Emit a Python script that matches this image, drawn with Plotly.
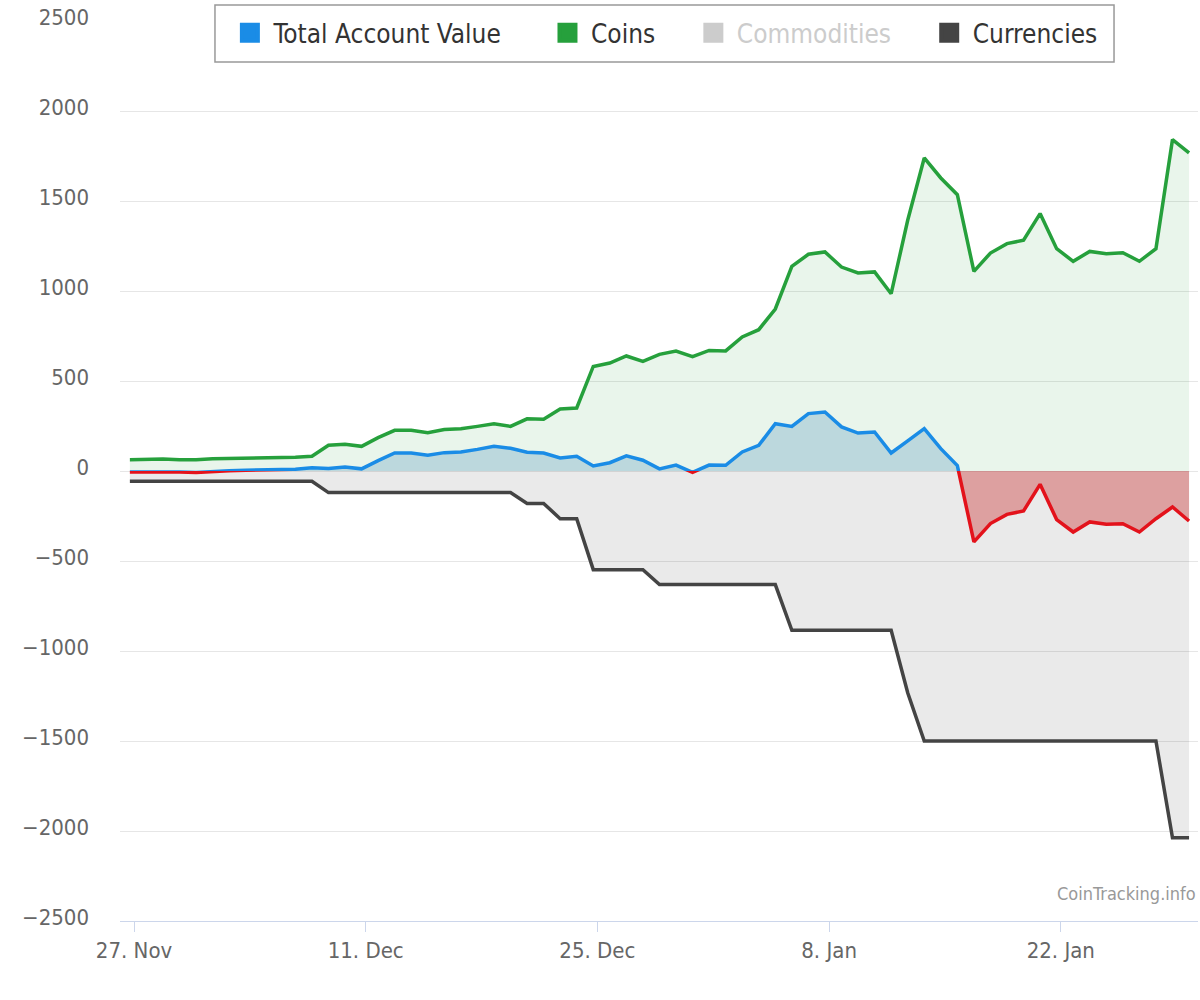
import pandas as pd
import plotly.graph_objects as go

# ---- data ----
start = "2017-11-26 18:00"
n_days = 65
dates = pd.date_range(start, periods=n_days, freq="D")

coins = [63, 65, 66, 63, 62, 68, 69, 70, 71, 73, 76, 82, 143, 148, 137, 185, 226, 226,
         213, 230, 235, 248, 263, 248, 290, 288, 344, 350, 581, 600, 639, 609, 648, 666,
         635, 670, 667, 745, 785, 900, 1137, 1204, 1217, 1133, 1100, 1106, 985, 1393,
         1739, 1628, 1535, 1109, 1211, 1263, 1282, 1430, 1235, 1165, 1220, 1207, 1213,
         1165, 1235, 1841, 1767]

currencies = [-57] * 12 + [-120] * 12 + [-180] * 2 + [-265] * 2 + [-548] * 4 + \
             [-631] * 8 + [-885] * 7 + [-1232] + [-1500] * 15 + [-2038] * 2

total = [-5, -4, -3, -6, -8, -2, 2, 4, 6, 8, 10, 18, 14, 22, 12, 58, 100, 100, 88, 102,
         106, 120, 138, 126, 104, 100, 72, 82, 28, 46, 84, 60, 12, 33, -8, 33, 32, 106,
         143, 263, 248, 319, 328, 245, 211, 217, 100, 167, 235, 124, 30, -394, -292,
         -241, -222, -74, -270, -339, -283, -296, -293, -339, -265, -200, -278]

series_names = ["Total Account Value", "Coins", "Commodities", "Currencies"]
y_ticks = [-2500, -2000, -1500, -1000, -500, 0, 500, 1000, 1500, 2000, 2500]
x_tick0 = "2017-11-27"

# ---- styles ----
FONT = "DejaVu Sans Condensed, Liberation Sans Narrow, Roboto Condensed, sans-serif"
BLUE = "#1a8ce6"
RED = "#e3121b"
GREEN = "#26a03c"
DARK = "#444444"
LIGHT = "#cccccc"
LW = 3.5
PAD5 = "\u00a0" * 5
PAD4 = "\u00a0" * 4

fig = go.Figure()

# Coins area
fig.add_trace(go.Scatter(x=dates, y=coins, mode="lines", fill="tozeroy",
                         line=dict(color=GREEN, width=LW),
                         fillcolor="rgba(35,160,55,0.1)", showlegend=False,
                         name=series_names[1], xaxis="x", yaxis="y"))
# Currencies area
fig.add_trace(go.Scatter(x=dates, y=currencies, mode="lines", fill="tozeroy",
                         line=dict(color=DARK, width=LW),
                         fillcolor="rgba(68,68,68,0.11)", showlegend=False,
                         name=series_names[3], xaxis="x", yaxis="y"))
# Total account value: positive part (clipped to upper half)
fig.add_trace(go.Scatter(x=dates, y=total, mode="lines", fill="tozeroy",
                         line=dict(color=BLUE, width=LW),
                         fillcolor="rgba(87,148,189,0.3)", showlegend=False,
                         name=series_names[0], xaxis="x", yaxis="y2"))
# Total account value: negative part (clipped to lower half)
fig.add_trace(go.Scatter(x=dates, y=total, mode="lines", fill="tozeroy",
                         line=dict(color=RED, width=LW),
                         fillcolor="rgba(200,40,40,0.38)", showlegend=False,
                         name=series_names[0], xaxis="x", yaxis="y3"))

# legend entries
legend_items = [(series_names[0] + PAD5, BLUE), (series_names[1] + PAD4, GREEN),
                ("<span style='color:#cccccc'>" + series_names[2] + "</span>" + PAD4, LIGHT),
                (series_names[3], DARK)]
for nm, col in legend_items:
    fig.add_trace(go.Scatter(x=[None], y=[None], mode="markers", name=nm,
                             marker=dict(symbol="square", size=16, color=col,
                                         line=dict(color=col, width=4)),
                             showlegend=True, hoverinfo="skip"))

x_min = pd.Timestamp("2017-11-26 03:40")
x_max = pd.Timestamp("2018-01-30 07:00")

fig.update_layout(
    width=1200, height=1000,
    margin=dict(l=120, r=2, t=21, b=79, autoexpand=False),
    paper_bgcolor="white", plot_bgcolor="rgba(0,0,0,0)",
    font=dict(family=FONT, size=22, color="#666666"),
    xaxis=dict(type="date", range=[x_min, x_max], tick0=x_tick0, dtick=14 * 86400000,
               tickformat="%-d. %b", showgrid=False, zeroline=False,
               showline=True, linecolor="#ccd6eb", linewidth=1,
               ticks="outside", ticklen=10, tickcolor="#ccd6eb", tickwidth=1,
               tickfont=dict(family=FONT, size=22, color="#666666"),
               anchor="y"),
    yaxis=dict(domain=[0, 1], range=[-2500, 2500], tickvals=y_ticks,
               showgrid=True, gridcolor="#e6e6e6", gridwidth=1, zeroline=False,
               showline=False, ticks="", ticklabelstandoff=30, ticklabelshift=-4,
               tickfont=dict(family=FONT, size=22, color="#666666")),
    yaxis2=dict(domain=[0.5, 1], range=[0, 2500], visible=False, anchor="x",
                showgrid=False, zeroline=False),
    yaxis3=dict(domain=[0, 0.5], range=[-2500, 0], visible=False, anchor="x",
                showgrid=False, zeroline=False),
    legend=dict(orientation="h", x=0.505, xanchor="center", y=0.9867, yanchor="middle",
                bgcolor="rgba(0,0,0,0)", borderwidth=0,
                font=dict(family=FONT, size=26, color="#333333"),
                itemwidth=37, itemclick=False, itemdoubleclick=False),
    shapes=[dict(type="rect", xref="paper", yref="paper", x0=0.0881, x1=0.9221,
                 y0=0.9544, y1=1.0178, line=dict(color="#999999", width=1.5),
                 fillcolor="white", layer="above")],
    annotations=[dict(text="CoinTracking.info", xref="paper", yref="paper",
                      x=1, y=0.031, xanchor="right", yanchor="middle",
                      showarrow=False, font=dict(family=FONT, size=18, color="#999999"))],
    hovermode=False,
)

fig.write_html("out.html", config={"displayModeBar": False, "staticPlot": True},
               post_script="document.body.style.margin='0px';"
                           "document.body.style.overflow='hidden';")
